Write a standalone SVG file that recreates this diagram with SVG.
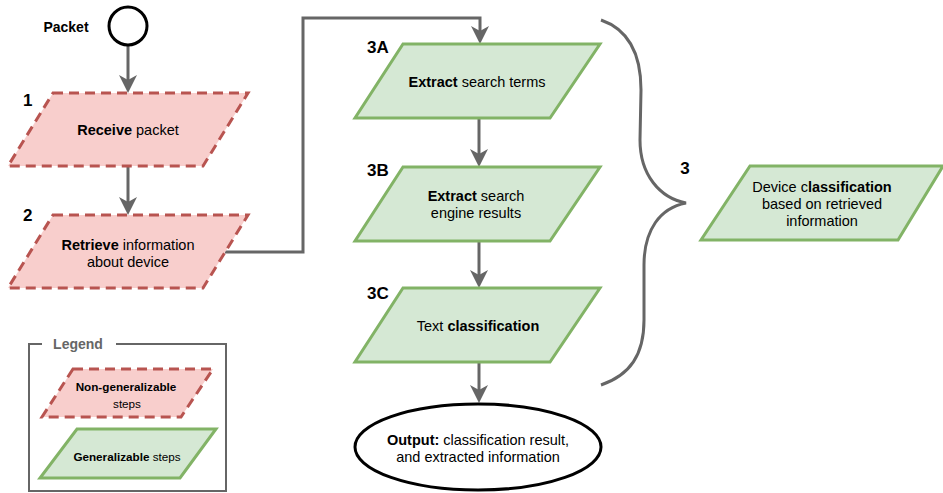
<svg xmlns="http://www.w3.org/2000/svg" width="943" height="493" viewBox="0 0 943 493">
  <defs>
    <style>
      text { font-family: "Liberation Sans", Arial, Helvetica, sans-serif; fill: #000; }
      .t { font-size: 14.5px; text-anchor: middle; dominant-baseline: central; }
      .s { font-size: 11.7px; text-anchor: middle; dominant-baseline: central; }
      .b { font-weight: bold; }
      .num { font-size: 17px; font-weight: bold; dominant-baseline: central; }
      .red { fill: #f8cecc; stroke: #b85450; stroke-width: 3; stroke-dasharray: 10 6; }
      .green { fill: #d5e8d4; stroke: #82b366; stroke-width: 3; }
      .edge { fill: none; stroke: #666666; stroke-width: 3; marker-end: url(#arrow); }
    </style>
    <marker id="arrow" markerUnits="userSpaceOnUse" markerWidth="18" markerHeight="18" viewBox="0 0 18 18" refX="6" refY="9" orient="auto">
      <path d="M0,0 L18,9 L0,18 L5,9 Z" fill="#666666"/>
    </marker>
  </defs>

  <rect width="943" height="493" fill="#ffffff"/>

  <!-- connectors -->
  <g id="connectors">
    <path class="edge" d="M128,46 L128,81"/>
    <path class="edge" d="M128,166 L128,203"/>
    <path class="edge" d="M225,252 L303,252 L303,18 L480,18 L480,32"/>
    <path class="edge" d="M479,118 L479,155"/>
    <path class="edge" d="M479,241 L479,276"/>
    <path class="edge" d="M479,362 L479,391"/>
  </g>

  <!-- start event -->
  <g id="packet">
    <circle cx="128" cy="26" r="19" fill="#ffffff" stroke="#000000" stroke-width="3"/>
    <text x="66" y="27" font-size="14px" class="b" text-anchor="middle" dominant-baseline="central">Packet</text>
  </g>

  <!-- step 1 -->
  <g id="step1">
    <polygon class="red" points="53,93 248,93 203,166 8,166"/>
    <text class="num" x="23" y="100">1</text>
    <text class="t" x="128" y="130"><tspan class="b">Receive</tspan> packet</text>
  </g>

  <!-- step 2 -->
  <g id="step2">
    <polygon class="red" points="53,215 248,215 203,288 8,288"/>
    <text class="num" x="23" y="215">2</text>
    <text class="t" x="128" y="245"><tspan class="b">Retrieve</tspan> information</text>
    <text class="t" x="128" y="262">about device</text>
  </g>

  <!-- step 3A -->
  <g id="step3a">
    <polygon class="green" points="403,44 600,44 550,118 355,118"/>
    <text class="num" x="367" y="47">3A</text>
    <text class="t" x="477" y="82"><tspan class="b">Extract</tspan> search terms</text>
  </g>

  <!-- step 3B -->
  <g id="step3b">
    <polygon class="green" points="403,167 600,167 550,241 355,241"/>
    <text class="num" x="367" y="170">3B</text>
    <text class="t" x="476" y="196"><tspan class="b">Extract</tspan> search</text>
    <text class="t" x="476" y="213">engine results</text>
  </g>

  <!-- step 3C -->
  <g id="step3c">
    <polygon class="green" points="403,288 600,288 550,362 355,362"/>
    <text class="num" x="367" y="293">3C</text>
    <text class="t" x="478" y="326">Text <tspan class="b">classification</tspan></text>
  </g>

  <!-- output -->
  <g id="output">
    <ellipse cx="478" cy="447" rx="123" ry="43" fill="#ffffff" stroke="#000000" stroke-width="3"/>
    <text class="t" x="478" y="440"><tspan class="b">Output:</tspan> classification result,</text>
    <text class="t" x="478" y="457">and extracted information</text>
  </g>

  <!-- brace grouping step 3 -->
  <g id="brace3">
    <path d="M601,20 C630,30 641,55 641,90 L640,140 C640,175 660,198 686,203 C660,208 644,230 644,265 L644,320 C644,355 630,375 601,385" fill="none" stroke="#666666" stroke-width="3"/>
    <text class="num" x="685" y="168" text-anchor="middle">3</text>
  </g>

  <!-- step 3 summary -->
  <g id="step3">
    <polygon class="green" points="750,166 943,166 898,240 701,240"/>
    <text class="t" x="822" y="187">Device c<tspan class="b">lassification</tspan></text>
    <text class="t" x="822" y="204">based on retrieved</text>
    <text class="t" x="822" y="221">information</text>
  </g>

  <!-- legend -->
  <g id="legend">
    <path d="M42,344 L29,344 L29,491 L226,491 L226,344 L116,344" fill="none" stroke="#666666" stroke-width="2"/>
    <text x="78" y="344" font-size="14px" class="b" fill="#666666" style="fill:#666666" text-anchor="middle" dominant-baseline="central">Legend</text>
    <polygon class="red" points="73,369 213,369 181,417 42,417"/>
    <text class="s" x="126" y="386"><tspan class="b">Non-generalizable</tspan></text>
    <text class="s" x="127" y="403">steps</text>
    <polygon class="green" points="77,429 216,429 180,478 40,478"/>
    <text class="s" x="127" y="456"><tspan class="b">Generalizable</tspan> steps</text>
  </g>
</svg>
